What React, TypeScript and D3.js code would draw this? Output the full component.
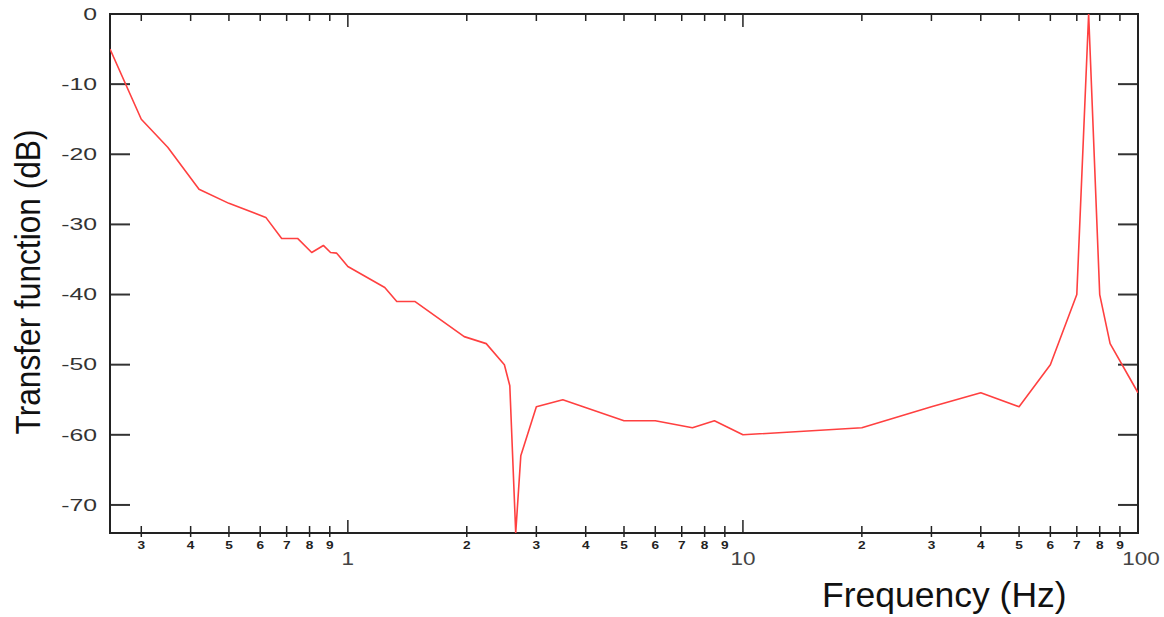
import React, { useEffect, useRef } from "react";
import * as d3 from "d3";

// frequency (Hz) and transfer function (dB)
const freqs = [
  0.25, 0.3, 0.35, 0.42, 0.5, 0.62, 0.68, 0.746, 0.81, 0.867, 0.904, 0.937, 1.0,
  1.24, 1.33, 1.48, 1.97, 2.24, 2.49, 2.57, 2.66, 2.74, 3.0, 3.5, 5.0, 6.0, 7.45,
  8.47, 10, 20, 30, 40, 50, 60, 70, 75, 80, 85, 100,
];
const gainDb = [
  -5, -15, -19, -25, -27, -29, -32, -32, -34, -33, -34, -34.1, -36,
  -39, -41, -41, -46, -47, -50, -53, -74, -63, -56, -55, -58, -58, -59,
  -58, -60, -59, -56, -54, -56, -50, -40, 0, -40, -47, -54,
];
const yTicks = [0, -10, -20, -30, -40, -50, -60, -70];
const xDomain = [0.25, 100];
const yDomain = [-74, 0];

const App = () => {
  const ref = useRef<SVGSVGElement>(null);

  useEffect(() => {
    const width = 1164;
    const height = 617;
    const margin = { top: 14, right: 26, bottom: 84, left: 110 };
    const svg = d3.select(ref.current);
    svg.selectAll("*").remove();
    svg.attr("width", width).attr("height", height);

    const x = d3.scaleLog().domain(xDomain).range([margin.left, width - margin.right]);
    const y = d3.scaleLinear().domain(yDomain).range([height - margin.bottom, margin.top]);
    const x0 = margin.left;
    const x1 = width - margin.right;
    const y0 = height - margin.bottom;
    const y1 = margin.top;

    const font = "'Liberation Sans', Arial, sans-serif";

    // y ticks, left and right, pointing inward
    yTicks.forEach((v) => {
      svg.append("line").attr("x1", x0).attr("x2", x0 + 20).attr("y1", y(v)).attr("y2", y(v))
        .attr("stroke", "#333").attr("stroke-width", 2);
      svg.append("line").attr("x1", x1 - 20).attr("x2", x1).attr("y1", y(v)).attr("y2", y(v))
        .attr("stroke", "#333").attr("stroke-width", 2);
      svg.append("text")
        .attr("transform", `translate(97,${y(v)}) scale(1.55,1)`)
        .attr("dy", "0.36em")
        .attr("text-anchor", "end")
        .style("font-family", font)
        .style("font-size", "16px")
        .style("fill", "#333")
        .text(String(v));
    });

    // x ticks, bottom and top
    const isMajor = (d: number) => Math.abs(Math.log10(d) - Math.round(Math.log10(d))) < 1e-9;
    x.ticks().forEach((d) => {
      if (d <= xDomain[0] || d >= xDomain[1]) return;
      const major = isMajor(d);
      const len = major ? 13 : 7;
      svg.append("line").attr("x1", x(d)).attr("x2", x(d)).attr("y1", y0 + (major ? 0 : 4)).attr("y2", y0 - len)
        .attr("stroke", "#222").attr("stroke-width", 1.5);
      svg.append("line").attr("x1", x(d)).attr("x2", x(d)).attr("y1", y1).attr("y2", y1 + len)
        .attr("stroke", "#222").attr("stroke-width", 1.5);
      if (!major) {
        const digit = Math.round(d / Math.pow(10, Math.floor(Math.log10(d) + 1e-9)));
        svg.append("text")
          .attr("transform", `translate(${x(d)},549) scale(1.3,1)`)
          .attr("text-anchor", "middle")
          .style("font-family", font)
          .style("font-weight", "bold")
          .style("font-size", "10.5px")
          .style("fill", "#222")
          .text(String(digit));
      }
    });
    [1, 10, 100].forEach((d) => {
      svg.append("text")
        .attr("transform", `translate(${x(d) + (d === 100 ? 3 : 0)},565) scale(1.25,1)`)
        .attr("text-anchor", "middle")
        .style("font-family", font)
        .style("font-size", "18px")
        .style("fill", "#444")
        .text(String(d));
    });

    // frame
    svg.append("rect").attr("x", x0).attr("y", y1).attr("width", x1 - x0).attr("height", y0 - y1)
      .attr("fill", "none").attr("stroke", "#222").attr("stroke-width", 2);

    // curve
    svg.append("clipPath").attr("id", "plotclip").append("rect")
      .attr("x", x0).attr("y", y1).attr("width", x1 - x0).attr("height", y0 - y1);
    const line = d3.line<number>().x((d, i) => x(freqs[i])).y((d) => y(d));
    svg.append("path")
      .datum(gainDb)
      .attr("clip-path", "url(#plotclip)")
      .attr("fill", "none")
      .attr("stroke", "#ff4040")
      .attr("stroke-width", 1.6)
      .attr("stroke-linejoin", "round")
      .attr("d", line);

    // axis titles
    svg.append("text")
      .attr("x", 822)
      .attr("y", 607)
      .style("font-family", font)
      .style("font-size", "35.5px")
      .style("fill", "#111")
      .text("Frequency (Hz)");
    svg.append("text")
      .attr("transform", "translate(40,282) rotate(-90)")
      .attr("text-anchor", "middle")
      .attr("textLength", 305)
      .attr("lengthAdjust", "spacingAndGlyphs")
      .style("font-family", font)
      .style("font-size", "35px")
      .style("fill", "#111")
      .text("Transfer function (dB)");
  }, []);

  return (
    <div style={{ position: "absolute", left: 0, top: 0 }}>
      <svg ref={ref}></svg>
    </div>
  );
};

export default App;
